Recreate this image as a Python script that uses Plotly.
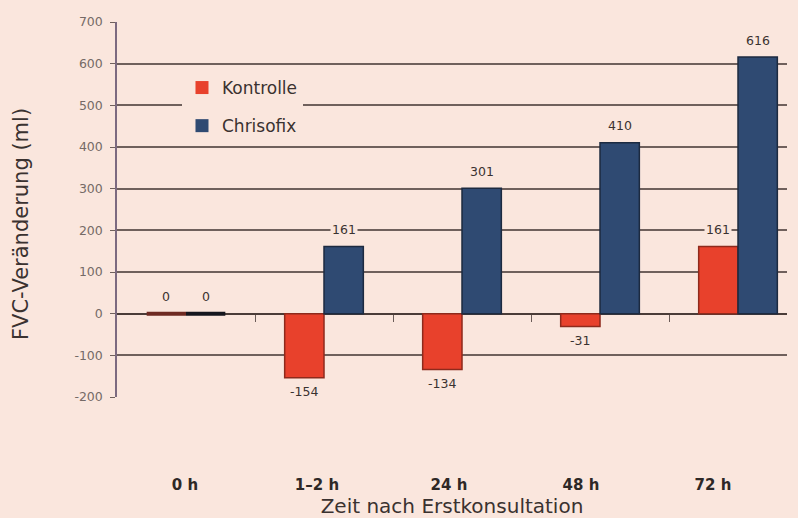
import plotly.graph_objects as go

categories = ["0 h", "1–2 h", "24 h", "48 h", "72 h"]
kontrolle = [0, -154, -134, -31, 161]
chrisofix = [0, 161, 301, 410, 616]
y_ticks = [-200, -100, 0, 100, 200, 300, 400, 500, 600, 700]
y_ticktext = ["-200", "-100", "0", "100", "200", "300", "400", "500", "600", "700"]

BG = "#fae6dd"
RED = "#e8412c"
BLUE = "#2f4a72"
GRID = "#6f605c"
FONT = "DejaVu Sans"

bargap = 0.43
bw = (1 - bargap) / 2

# bar outlines: zero-height bars drawn as a thick dark strip, as in the original
red_line_w = [4 if v == 0 else 1.5 for v in kontrolle]
blue_line_w = [4 if v == 0 else 1.5 for v in chrisofix]
red_line_c = ["#6e2a22" if v == 0 else "#8e2a1c" for v in kontrolle]
blue_line_c = ["#15161e" if v == 0 else "#1c2a40" for v in chrisofix]

fig = go.Figure()
fig.add_trace(go.Bar(
    name="Kontrolle", x=categories, y=kontrolle, showlegend=False,
    marker=dict(color=RED, line=dict(color=red_line_c, width=red_line_w)),
))
fig.add_trace(go.Bar(
    name="Chrisofix", x=categories, y=chrisofix, showlegend=False,
    marker=dict(color=BLUE, line=dict(color=blue_line_c, width=blue_line_w)),
))
# legend entries
for name, col, grp in (("Kontrolle", RED, "a"), ("Chrisofix", BLUE, "b")):
    fig.add_trace(go.Scatter(
        name=name, x=[None], y=[None], mode="markers", legendgroup=grp,
        marker=dict(symbol="square", size=13, color=col, line=dict(width=0)),
    ))

annotations = []
for series, off in ((kontrolle, -bw / 2), (chrisofix, bw / 2)):
    for i, v in enumerate(series):
        annotations.append(dict(
            x=i + off, y=v, xref="x", yref="y", text=str(v),
            showarrow=False, yshift=(17 if v >= 0 else -14),
            font=dict(family=FONT, size=12.5, color="#3a3230"),
            bgcolor=BG, borderpad=1,
        ))
annotations.append(dict(
    text="FVC-Veränderung (ml)", textangle=-90, showarrow=False,
    xref="paper", yref="paper", x=0, y=(397 - 224) / 375,
    xanchor="center", yanchor="middle", xshift=-96,
    font=dict(family=FONT, size=21, color="#3a3230"),
))

fig.update_layout(
    width=798, height=518,
    paper_bgcolor=BG, plot_bgcolor=BG,
    margin=dict(l=117, r=11, t=22, b=121, autoexpand=False),
    barmode="group", bargap=bargap, bargroupgap=0,
    font=dict(family=FONT, color="#3a3230"),
    showlegend=True,
    legend=dict(
        x=0.097, y=0.872, xanchor="left", yanchor="top",
        bgcolor=BG, font=dict(family=FONT, size=17, color="#3a3230"),
        traceorder="grouped", tracegroupgap=13, itemwidth=30,
    ),
    annotations=annotations,
    xaxis=dict(
        type="category", range=[-0.5, 4.355], automargin=False,
        showgrid=False, zeroline=False, showline=False,
        ticks="", showticklabels=False,
    ),
    xaxis2=dict(
        overlaying="x", anchor="free", position=200 / 900, automargin=False,
        range=[-0.5, 4.355], tickvals=[0.5, 1.5, 2.5, 3.5],
        ticks="outside", ticklen=7, tickwidth=1, tickcolor="#6a5c58",
        showticklabels=False, showgrid=False, zeroline=False, showline=False,
    ),
    xaxis3=dict(
        overlaying="x", anchor="y", side="bottom", automargin=False,
        type="category", categoryorder="array", categoryarray=categories,
        range=[-0.515, 4.561],
        showgrid=False, zeroline=False, showline=False,
        ticks="", ticklabelstandoff=77,
        tickfont=dict(family=FONT, size=15, color="#2e2826", weight="bold"),
        title=dict(text="Zeit nach Erstkonsultation", standoff=7,
                   font=dict(family=FONT, size=20, color="#3a3230")),
    ),
    yaxis=dict(
        range=[-200, 700], tickvals=y_ticks, ticktext=y_ticktext,
        automargin=False,
        showgrid=True, gridcolor=GRID, gridwidth=1.6,
        zeroline=True, zerolinecolor="#4a3c38", zerolinewidth=1.6,
        showline=True, linecolor="#7c6a80", linewidth=1.5,
        ticks="outside", ticklen=5, tickcolor=GRID, ticklabelstandoff=5,
        tickfont=dict(family=FONT, size=12.5, color="#756a66"),
    ),
)
# invisible traces to activate the overlay axes
fig.add_trace(go.Scatter(x=[0], y=[0], xaxis="x2", mode="markers",
                         marker=dict(opacity=0), showlegend=False, hoverinfo="skip"))
fig.add_trace(go.Scatter(x=categories, y=[0] * len(categories), xaxis="x3", mode="markers",
                         marker=dict(opacity=0), showlegend=False, hoverinfo="skip"))

fig.write_html("out.html", config={"displayModeBar": False},
               post_script="document.body.style.margin='0';")
